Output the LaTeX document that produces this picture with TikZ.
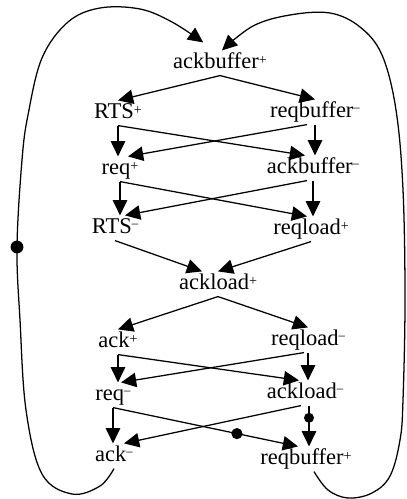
\documentclass[tikz,border=0pt]{standalone}
\usepackage{fontspec}
\setmainfont{Liberation Serif}
\usetikzlibrary{arrows.meta}

\newcommand{\sgp}{\raisebox{.35ex}{\normalsize+}}
\newcommand{\sgm}{\raisebox{.55ex}{\small--}}

\begin{document}
\begin{tikzpicture}[
  x=0.025cm, y=-0.025cm,
  ev/.style={font=\fontsize{16}{19}\selectfont, inner sep=2pt, text height=10.5pt, text depth=3pt},
  edge/.style={draw=black, line width=0.9pt, -{Triangle[length=0.38cm, width=0.36cm]}},
  token/.style={circle, fill=black, inner sep=0pt, minimum size=0.28cm}
]
\useasboundingbox (0,0) rectangle (407,499);

\node[ev] (abP)  at (220,63)  {ackbuffer\sgp};
\node[ev] (rtsP) at (118,113) {RTS\sgp};
\node[ev] (rbM)  at (315,112) {reqbuffer\sgm};
\node[ev] (reqP) at (120,169) {req\sgp};
\node[ev] (abM)  at (313,168) {ackbuffer\sgm};
\node[ev] (rtsM) at (115,228) {RTS\sgm};
\node[ev] (rlP)  at (311,229) {reqload\sgp};
\node[ev] (alP)  at (218,284) {ackload\sgp};
\node[ev] (ackP) at (118,342) {ack\sgp};
\node[ev] (rlM)  at (308,340) {reqload\sgm};
\node[ev] (reqM) at (113,395) {req\sgm};
\node[ev] (alM)  at (305,393) {ackload\sgm};
\node[ev] (ackM) at (114,456) {ack\sgm};
\node[ev] (rbP)  at (306,459) {reqbuffer\sgp};
\node[token, minimum size=0.32cm] (tokL) at (17,247) {};

\draw[edge] (abP.south) -- (rtsP.north);
\draw[edge] (abP.south) -- (rbM.north);

\draw[edge] (rtsP.south) -- (rtsP.south |- reqP.north);
\draw[edge] (rtsP.south) -- ([xshift=-0.2cm]abM.north);
\draw[edge] ([xshift=-0.2cm]rbM.south) -- ([xshift=0.2cm]reqP.north);
\draw[edge] (rbM.south) -- (rbM.south |- abM.north);

\draw[edge] (reqP.south) -- (reqP.south |- rtsM.north);
\draw[edge] (reqP.south) -- ([xshift=-0.1cm]rlP.north);
\draw[edge] ([xshift=-0.15cm]abM.south) -- ([xshift=0.25cm]rtsM.north);
\draw[edge] (abM.south) -- (abM.south |- rlP.north);

\draw[edge] (rtsM.south) -- ([xshift=-0.4cm]alP.north);
\draw[edge] (rlP.south) -- (alP.north);

\draw[edge] (alP.south) -- (ackP.north);
\draw[edge] (alP.south) -- (rlM.north);

\draw[edge] (ackP.south) -- (ackP.south |- reqM.north);
\draw[edge] (ackP.south) -- ([xshift=-0.15cm]alM.north);
\draw[edge] ([xshift=-0.1cm]rlM.south) -- ([xshift=0.2cm]reqM.north);
\draw[edge] (rlM.south) -- (rlM.south |- alM.north);

\draw[edge] (reqM.south) -- (reqM.south |- ackM.north);
\draw[edge] (reqM.south) -- node[token, pos=0.67] (tokD) {} ([xshift=-0.2cm]rbP.north);
\draw[edge] ([xshift=-0.1cm]alM.south) -- ([xshift=0.25cm]ackM.north);
\draw[edge] ([xshift=0.1cm]alM.south) -- node[token, pos=0.3, minimum size=0.25cm] (tokV) {} ([xshift=0.1cm]alM.south |- rbP.north);

% the two closing arcs back to ackbuffer+
\draw[edge] plot[smooth, tension=0.6] coordinates {(ackM.south) (100,486) (72,494) (42,474) (26,410) (20,320) (tokL.center) (22,160) (28,115) (42,58) (68,22) (100,8) (140,9) (172,22) ([shift={(-0.42cm,0.2cm)}]abP.north)};
\draw[edge] plot[smooth, tension=0.6] coordinates {([xshift=0.2cm]rbP.south) (328,490) (348,498) (372,493) (390,476) (400,440) (403,400) (405,300) (403,190) (396,110) (382,55) (360,27) (330,13) (290,15) (253,26) ([xshift=0.05cm]abP.north)};
\end{tikzpicture}
\end{document}
